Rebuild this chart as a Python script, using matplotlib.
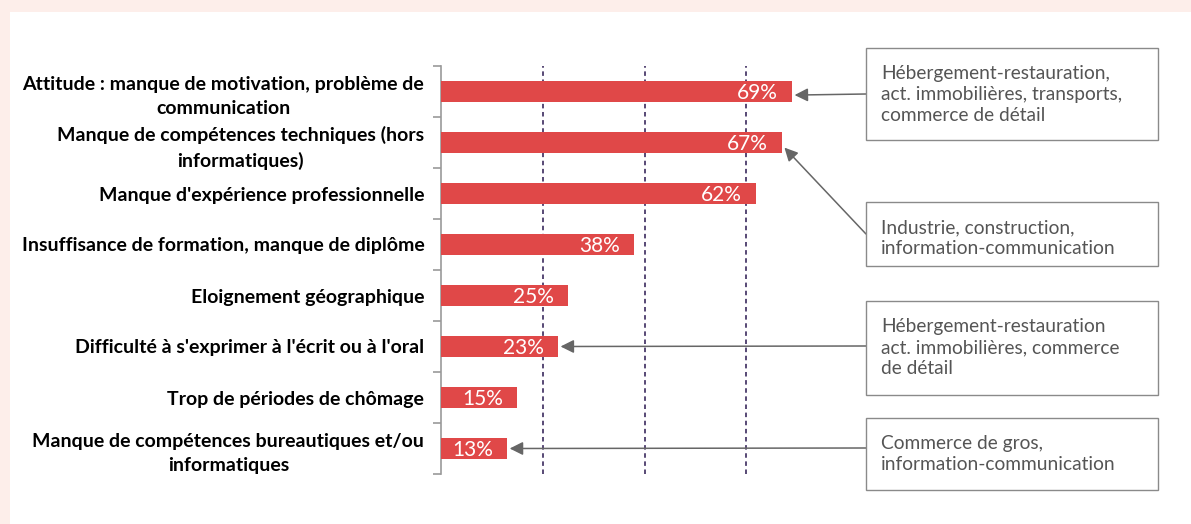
import matplotlib.pyplot as plt
from matplotlib.patches import Rectangle

plt.rcParams['font.family'] = ['Lato', 'DejaVu Sans']

# données
categories = [
    "Attitude : manque de motivation, problème de\ncommunication",
    "Manque de compétences techniques (hors\ninformatiques)",
    "Manque d'expérience professionnelle",
    "Insuffisance de formation, manque de diplôme",
    "Eloignement géographique",
    "Difficulté à s'exprimer à l'écrit ou à l'oral",
    "Trop de périodes de chômage",
    "Manque de compétences bureautiques et/ou\ninformatiques",
]
values = [69, 67, 62, 38, 25, 23, 15, 13]
grid_x = [20, 40, 60]

notes = [
    "Hébergement-restauration,\nact. immobilières, transports,\ncommerce de détail",
    "Industrie, construction,\ninformation-communication",
    "Hébergement-restauration\nact. immobilières, commerce\nde détail",
    "Commerce de gros,\ninformation-communication",
]
note_target = [0, 1, 5, 7]  # barre visée par chaque encadré

W, H = 1191, 524
fig = plt.figure(figsize=(W / 100, H / 100), dpi=100, facecolor='#fdeeea')
fig.patches.append(Rectangle((10 / W, 0), 1, 1 - 12 / H, transform=fig.transFigure,
                             facecolor='white', edgecolor='none', zorder=-10))

ax = fig.add_axes([441 / W, 1 - 474 / H, 407 / W, 408 / H])
ax.set_facecolor('none')
y = list(range(len(values)))
ax.barh(y, values, height=0.4, color='#e04848', zorder=3)
for yi, v in zip(y, values):
    ax.text(v - 2.8, yi + 0.03, f'{v}%', color='white', ha='right', va='center',
            fontsize=15, zorder=4)
for gx in grid_x:
    ax.axvline(gx, color='#4a3a6a', lw=1.3, ls=(0, (2.5, 2)), zorder=1)

ax.set_xlim(0, 80)
ax.set_ylim(len(values) - 0.5, -0.5)
ax.set_yticks(y)
ax.set_yticklabels(categories, fontsize=14, fontweight='bold', ha='right',
                   multialignment='center', linespacing=1.5)
ax.set_yticks([i - 0.5 for i in range(len(values) + 1)], minor=True)
ax.tick_params(axis='y', which='major', length=0, pad=12)
ax.tick_params(axis='y', which='minor', length=6, color='#999999', width=1.2)
ax.set_xticks([])
for s in ['top', 'right', 'bottom']:
    ax.spines[s].set_visible(False)
ax.spines['left'].set_color('#999999')
ax.spines['left'].set_linewidth(1.2)

# encadrés (pixels : x0, y_haut, y_bas)
boxes = [(866, 48, 140), (866, 202, 266), (866, 301, 395), (866, 418, 490)]
arrow_from = [94, 234, 346, 448]
tip_dy = [0.07, 0.1, 0.0, 0.0]
for (x0, yt, yb), txt, tgt, ay, dy in zip(boxes, notes, note_target, arrow_from, tip_dy):
    fig.patches.append(Rectangle((x0 / W, 1 - yb / H), (1158 - x0) / W, (yb - yt) / H,
                                 transform=fig.transFigure, facecolor='white',
                                 edgecolor='#8a8a8a', lw=1.0, zorder=2))
    fig.text((x0 + 15) / W, 1 - (yt + 17) / H, txt, fontsize=13.8, color='#555555',
             va='top', ha='left', linespacing=1.3, zorder=3)
    ax.annotate('', xy=(values[tgt] + 0.5, tgt + dy), xycoords='data',
                xytext=(x0, H - ay), textcoords='figure pixels',
                arrowprops=dict(arrowstyle='-|>', color='#666666', lw=1.1,
                                mutation_scale=20, shrinkA=0, shrinkB=0),
                annotation_clip=False)

plt.savefig('out.png', dpi=100, facecolor=fig.get_facecolor())
